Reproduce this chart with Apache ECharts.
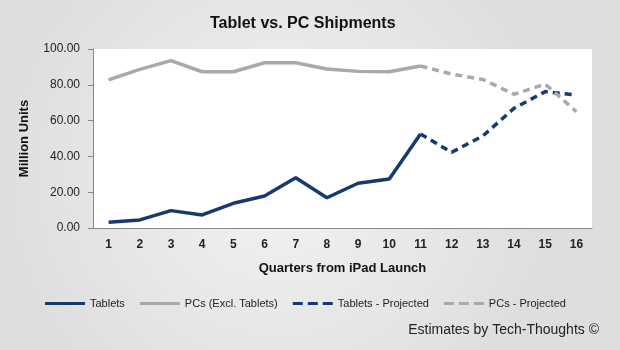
<!DOCTYPE html>
<html>
<head>
<meta charset="utf-8">
<script src="https://cdn.jsdelivr.net/npm/echarts@6/dist/echarts.min.js"></script>
<style>
  html, body { margin: 0; padding: 0; }
  #chart { width: 620px; height: 350px; }
</style>
</head>
<body>
<div id="chart"></div>
<script>
// data
var quarters = ['1','2','3','4','5','6','7','8','9','10','11','12','13','14','15','16'];
var tablets = [3.2, 4.5, 9.7, 7.3, 13.8, 17.9, 28.1, 16.9, 25.0, 27.4, 52.5, 42.3, 51.4, 66.9, 76.2, 74.3];
var pcs = [82.7, 88.6, 93.5, 87.3, 87.3, 92.3, 92.3, 88.8, 87.5, 87.3, 90.5, 86.0, 83.0, 74.7, 80.4, 65.0];
var lastActual = 10; // quarter 11 is the last real figure

var navy = '#173a6e';
var grey = '#a9a9a9';
var font = 'Liberation Sans';
var solidIcon = 'rect';
var dashIcon = 'path://M0,0h10v3h-10z M15,0h10v3h-10z M30,0h10v3h-10z';

function upTo(arr) { return arr.map(function(v, i) { return i <= lastActual ? v : null; }); }
function fromOn(arr) { return arr.map(function(v, i) { return i >= lastActual ? v : null; }); }

function lineSeries(name, data, color, dashed) {
  return {
    name: name,
    type: 'line',
    data: data,
    symbol: 'none',
    silent: true,
    lineStyle: { color: color, width: 3.5, type: dashed ? [7, 5] : 'solid' },
    itemStyle: { color: color }
  };
}

var chart = echarts.init(document.getElementById('chart'));

chart.setOption({
  animation: false,
  backgroundColor: {
    type: 'radial', x: 0.45, y: 0.5, r: 0.8,
    colorStops: [{ offset: 0, color: '#f3f3f3' }, { offset: 1, color: '#dedede' }]
  },
  textStyle: { fontFamily: font },
  title: {
    text: 'Tablet vs. PC Shipments',
    left: 205,
    top: 11,
    textStyle: { fontSize: 16, fontWeight: 'bold', color: '#111', fontFamily: font }
  },
  legend: {
    left: 40,
    top: 293,
    itemWidth: 40,
    itemHeight: 3,
    itemGap: 15,
    textStyle: { fontSize: 11, color: '#222' },
    data: [
      { name: 'Tablets', icon: solidIcon },
      { name: 'PCs (Excl. Tablets)', icon: solidIcon },
      { name: 'Tablets - Projected', icon: dashIcon },
      { name: 'PCs - Projected', icon: dashIcon }
    ]
  },
  graphic: [{
    type: 'text',
    right: 21,
    top: 323,
    style: { text: 'Estimates by Tech-Thoughts ©', fontSize: 14, fill: '#222', fontFamily: font }
  }],
  grid: {
    left: 93, right: 28, top: 49, bottom: 122,
    show: true, backgroundColor: '#ffffff', borderWidth: 0
  },
  xAxis: {
    type: 'category',
    data: quarters,
    name: 'Quarters from iPad Launch',
    nameLocation: 'middle',
    nameGap: 34,
    nameTextStyle: { fontSize: 13, fontWeight: 'bold', color: '#111' },
    axisLine: { lineStyle: { color: '#888' } },
    axisTick: { length: 5, lineStyle: { color: '#888' } },
    axisLabel: { margin: 11, fontSize: 12, fontWeight: 'bold', color: '#222' }
  },
  yAxis: {
    type: 'value',
    min: 0, max: 100, interval: 20,
    name: 'Million Units',
    nameLocation: 'middle',
    nameGap: 62,
    nameTextStyle: { fontSize: 13, fontWeight: 'bold', color: '#111' },
    axisLine: { show: true, lineStyle: { color: '#888' } },
    axisTick: { show: true, length: 5, lineStyle: { color: '#888' } },
    splitLine: { show: false },
    axisLabel: {
      margin: 13, fontSize: 12, color: '#222',
      formatter: function(v) { return v.toFixed(2); }
    }
  },
  series: [
    lineSeries('Tablets', upTo(tablets), navy, false),
    lineSeries('PCs (Excl. Tablets)', upTo(pcs), grey, false),
    lineSeries('Tablets - Projected', fromOn(tablets), navy, true),
    lineSeries('PCs - Projected', fromOn(pcs), grey, true)
  ]
});
</script>
</body>
</html>
